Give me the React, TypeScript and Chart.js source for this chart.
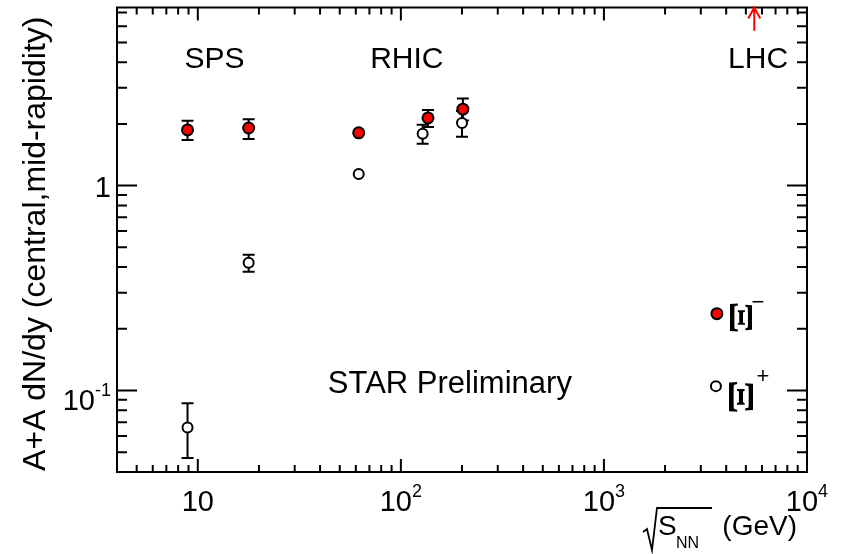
import React, { useEffect, useRef } from "react";
import { Chart, registerables } from "chart.js";
Chart.register(...registerables);

// ---- data ----
const energyXiMinus = [8.9, 17.8, 62, 136, 202, 3600];
const dndyXiMinus = [1.87, 1.91, 1.81, 2.14, 2.36, 0.237];
const errHiXiMinus = [2.07, 2.11, 1.81, 2.34, 2.66, 0.237];
const errLoXiMinus = [1.67, 1.69, 1.81, 1.93, 2.08, 0.237];

const energyXiPlus = [8.9, 17.8, 62, 128, 200, 3560];
const dndyXiPlus = [0.066, 0.42, 1.14, 1.79, 2.02, 0.105];
const errHiXiPlus = [0.0865, 0.46, 1.14, 1.98, 2.31, 0.105];
const errLoXiPlus = [0.0468, 0.38, 1.14, 1.6, 1.73, 0.105];

const xMajorTicks = [10, 100, 1000, 10000];
const xTickBase = ["10", "10", "10", "10"];
const xTickSup = ["", "2", "3", "4"];
const yMajorTicks = [0.1, 1];
const yTickBase = ["10", "1"];
const yTickSup = ["-1", ""];

const colliderLabels = ["SPS", "RHIC", "LHC"];
const colliderX = [12.1, 107, 5740];
const colliderY = 3.74;
const lhcArrowX = 5500;
const lhcArrowTailY = 5.7;

const FONT = '"Liberation Sans", Arial, Helvetica, sans-serif';

function drawPower(ctx: CanvasRenderingContext2D, base: string, sup: string, x: number, baseline: number, align: "center" | "right") {
  ctx.textAlign = "left";
  ctx.textBaseline = "alphabetic";
  ctx.font = `29px ${FONT}`;
  const wb = ctx.measureText(base).width;
  ctx.font = `18px ${FONT}`;
  const ws = sup ? ctx.measureText(sup).width : 0;
  const total = wb + ws;
  const start = align === "center" ? x - total / 2 : x - total;
  ctx.font = `29px ${FONT}`;
  ctx.fillText(base, start, baseline);
  if (sup) {
    ctx.font = `18px ${FONT}`;
    ctx.fillText(sup, start + wb, baseline - 14);
  }
}

function drawRotatedXi(ctx: CanvasRenderingContext2D, cx: number, cy: number, boxW: number, boxH: number) {
  ctx.save();
  ctx.translate(cx, cy);
  ctx.rotate(Math.PI / 2);
  ctx.font = `bold 32px "Liberation Serif", "DejaVu Serif", serif`;
  ctx.textAlign = "left";
  ctx.textBaseline = "alphabetic";
  const m = ctx.measureText("Ξ");
  const gw = m.actualBoundingBoxLeft + m.actualBoundingBoxRight;
  const gh = m.actualBoundingBoxAscent + m.actualBoundingBoxDescent;
  ctx.scale(boxH / gw, boxW / gh);
  ctx.fillText("Ξ", -gw / 2 + m.actualBoundingBoxLeft, gh / 2 - m.actualBoundingBoxDescent);
  ctx.restore();
}

const rootStyle = {
  id: "rootStyle",
  beforeDatasetsDraw(chart: any) {
    const ctx: CanvasRenderingContext2D = chart.ctx;
    const xs = chart.scales.x;
    const ys = chart.scales.y;
    const sets = [
      [energyXiMinus, errLoXiMinus, errHiXiMinus],
      [energyXiPlus, errLoXiPlus, errHiXiPlus],
    ];
    ctx.save();
    ctx.strokeStyle = "#000";
    ctx.lineWidth = 2;
    for (const [ex, lo, hi] of sets) {
      for (let i = 0; i < ex.length; i++) {
        if (hi[i] <= lo[i]) continue;
        const px = xs.getPixelForValue(ex[i]);
        const y1 = ys.getPixelForValue(lo[i]);
        const y2 = ys.getPixelForValue(hi[i]);
        ctx.beginPath();
        ctx.moveTo(px, y1);
        ctx.lineTo(px, y2);
        ctx.moveTo(px - 6, y1);
        ctx.lineTo(px + 6, y1);
        ctx.moveTo(px - 6, y2);
        ctx.lineTo(px + 6, y2);
        ctx.stroke();
      }
    }
    ctx.restore();
  },
  afterDatasetsDraw(chart: any) {
    const ctx: CanvasRenderingContext2D = chart.ctx;
    const a = chart.chartArea;
    const xs = chart.scales.x;
    const ys = chart.scales.y;
    ctx.save();
    ctx.strokeStyle = "#000";
    ctx.fillStyle = "#000";
    ctx.lineWidth = 2;
    ctx.strokeRect(a.left, a.top, a.right - a.left, a.bottom - a.top);

    // x ticks
    ctx.beginPath();
    for (let e = 0; e <= 4; e++) {
      for (let k = 1; k <= 9; k++) {
        const v = k * Math.pow(10, e);
        if (v < xs.min - 1e-9 || v > xs.max + 1e-9) continue;
        const px = xs.getPixelForValue(v);
        const len = k === 1 ? 13 : 7;
        ctx.moveTo(px, a.bottom);
        ctx.lineTo(px, a.bottom - len);
        ctx.moveTo(px, a.top);
        ctx.lineTo(px, a.top + len);
      }
    }
    // y ticks
    for (let e = -2; e <= 1; e++) {
      for (let k = 1; k <= 9; k++) {
        const v = k * Math.pow(10, e);
        if (v < ys.min - 1e-9 || v > ys.max + 1e-9) continue;
        const py = ys.getPixelForValue(v);
        const len = k === 1 ? 20 : 10;
        ctx.moveTo(a.left, py);
        ctx.lineTo(a.left + len, py);
        ctx.moveTo(a.right, py);
        ctx.lineTo(a.right - len, py);
      }
    }
    ctx.stroke();

    // tick labels
    xMajorTicks.forEach((v, i) => {
      drawPower(ctx, xTickBase[i], xTickSup[i], xs.getPixelForValue(v), a.bottom + 39, "center");
    });
    yMajorTicks.forEach((v, i) => {
      const py = ys.getPixelForValue(v);
      drawPower(ctx, yTickBase[i], yTickSup[i], a.left - 6, py + (yTickSup[i] ? 20 : 11), "right");
    });

    // collider labels
    ctx.font = `30px ${FONT}`;
    ctx.textAlign = "center";
    ctx.textBaseline = "alphabetic";
    colliderLabels.forEach((t, i) => {
      ctx.fillText(t, xs.getPixelForValue(colliderX[i]), ys.getPixelForValue(colliderY));
    });
    ctx.font = `31px ${FONT}`;
    ctx.textAlign = "left";
    ctx.fillText("STAR Preliminary", xs.getPixelForValue(43.7), ys.getPixelForValue(0.0967));

    // particle labels
    const pm = chart.getDatasetMeta(0).data[5];
    const pp = chart.getDatasetMeta(1).data[5];
    drawRotatedXi(ctx, pm.x + 24, pm.y + 4, 22, 30);
    drawRotatedXi(ctx, pp.x + 25, pp.y + 11, 24, 32);
    ctx.font = `22px ${FONT}`;
    ctx.textAlign = "center";
    ctx.textBaseline = "middle";
    ctx.fillText("\u2212", pm.x + 41, pm.y - 11);
    ctx.fillText("+", pp.x + 47, pp.y - 9);

    // y title
    ctx.save();
    ctx.translate(45, (a.top + a.bottom) / 2 + 4);
    ctx.rotate(-Math.PI / 2);
    ctx.font = `32px ${FONT}`;
    ctx.textAlign = "center";
    ctx.textBaseline = "alphabetic";
    ctx.fillText("A+A dN/dy (central,mid-rapidity)", 0, 0);
    ctx.restore();

    // x title: sqrt(S_NN) (GeV)
    const bx = a.right;
    const by = a.bottom;
    ctx.textAlign = "left";
    ctx.textBaseline = "alphabetic";
    ctx.font = `28px ${FONT}`;
    ctx.fillText("S", bx - 149, by + 63);
    ctx.font = `16px ${FONT}`;
    ctx.fillText("NN", bx - 131, by + 76);
    ctx.font = `28px ${FONT}`;
    ctx.textAlign = "right";
    ctx.fillText("(GeV)", bx - 10, by + 63);
    ctx.lineWidth = 1.8;
    ctx.beginPath();
    ctx.moveTo(bx - 164, by + 60);
    ctx.lineTo(bx - 160, by + 57);
    ctx.lineTo(bx - 155, by + 78);
    ctx.lineTo(bx - 150, by + 36);
    ctx.lineTo(bx - 95, by + 36);
    ctx.stroke();

    // LHC arrow
    const ax = xs.getPixelForValue(lhcArrowX);
    const tipY = a.top;
    const tailY = ys.getPixelForValue(lhcArrowTailY);
    ctx.strokeStyle = "#ff0000";
    ctx.lineWidth = 2;
    ctx.beginPath();
    ctx.moveTo(ax, tailY);
    ctx.lineTo(ax, tipY);
    ctx.moveTo(ax - 6, tipY + 11);
    ctx.lineTo(ax, tipY);
    ctx.lineTo(ax + 6, tipY + 11);
    ctx.stroke();
    ctx.restore();
  },
};

export default function App() {
  const ref = useRef<HTMLCanvasElement>(null);
  useEffect(() => {
    const chart = new Chart(ref.current!, {
      type: "scatter",
      data: {
        datasets: [
          {
            label: "Ξ−",
            data: energyXiMinus.map((x, i) => ({ x, y: dndyXiMinus[i] })),
            pointRadius: 5.5,
            pointBackgroundColor: "#ff0000",
            pointBorderColor: "#000",
            pointBorderWidth: 2,
            showLine: false,
          },
          {
            label: "Ξ+",
            data: energyXiPlus.map((x, i) => ({ x, y: dndyXiPlus[i] })),
            pointRadius: 5,
            pointBackgroundColor: "#ffffff",
            pointBorderColor: "#000",
            pointBorderWidth: 2,
            showLine: false,
          },
        ],
      },
      options: {
        animation: false,
        responsive: true,
        maintainAspectRatio: false,
        layout: { padding: { left: 117, right: 34, top: 5, bottom: 82 } },
        plugins: { legend: { display: false }, tooltip: { enabled: false } },
        scales: {
          x: { type: "logarithmic", min: 4, max: 10000, display: false },
          y: { type: "logarithmic", min: 0.04, max: 7.4, display: false },
        },
      },
      plugins: [rootStyle],
    });
    return () => chart.destroy();
  }, []);
  return (
    <div style={{ position: "absolute", left: 0, top: 0, width: 841, height: 554, background: "#fff" }}>
      <canvas ref={ref} style={{ display: "block" }} />
    </div>
  );
}
